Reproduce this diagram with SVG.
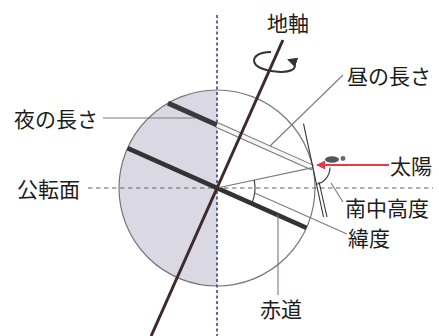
<svg xmlns="http://www.w3.org/2000/svg" width="439" height="336" viewBox="0 0 439 336">
  <style>
    .label { font-family: "Noto Sans CJK JP", "Noto Sans", sans-serif; font-size: 21px; fill: #1c1c1c; }
    .leader { stroke: #7a7a7a; stroke-width: 1.1; fill: none; }
    .thin { stroke: #333; stroke-width: 1.1; fill: none; }
  </style>
  <defs>
    <marker id="tip-dark" viewBox="0 0 10 10" refX="8" refY="5" markerWidth="5" markerHeight="5" orient="auto" markerUnits="strokeWidth">
      <path d="M0,0 L10,5 L0,10 z" fill="#333"/>
    </marker>
    <marker id="tip-red" viewBox="0 0 10 10" refX="9" refY="5" markerWidth="5.5" markerHeight="4.5" orient="auto" markerUnits="strokeWidth">
      <path d="M0,0 L10,5 L0,10 z" fill="#e8394a"/>
    </marker>
    <clipPath id="night">
      <rect x="100" y="80" width="117" height="220"/>
    </clipPath>
  </defs>

  <rect width="439" height="336" fill="#ffffff"/>

  <!-- Earth: night half shaded, outline -->
  <g id="earth">
    <circle cx="217" cy="188" r="98" fill="#d9d8e3" clip-path="url(#night)"/>
    <circle cx="217" cy="188" r="98" fill="none" stroke="#777" stroke-width="1.2"/>
  </g>

  <!-- reference lines -->
  <g id="planes">
    <line x1="217" y1="15" x2="217" y2="336" stroke="#2a3f78" stroke-width="1.5" stroke-dasharray="3,2.5"/>
    <line x1="88" y1="188" x2="433" y2="188" stroke="#666" stroke-width="1.2" stroke-dasharray="4.5,3.5"/>
  </g>

  <!-- parallels of latitude -->
  <g id="latitude">
    <line x1="168" y1="103.1" x2="217" y2="125" stroke="#3a3a3a" stroke-width="5"/>
    <line x1="217" y1="125" x2="312.8" y2="167.7" stroke="#777" stroke-width="6"/>
    <line x1="217" y1="125" x2="312.8" y2="167.7" stroke="#f6f5f8" stroke-width="4"/>
    <line x1="127.5" y1="148.1" x2="306.5" y2="227.9" stroke="#333" stroke-width="4.5"/>
  </g>

  <!-- connectors: radius, horizon, angle arcs, sun ray, leaders -->
  <g id="connectors">
    <line class="leader" x1="217" y1="188" x2="312.8" y2="167.6"/>
    <line class="thin" x1="303.5" y1="123.6" x2="323.5" y2="217"/>
    <line class="thin" x1="319" y1="182" x2="327" y2="217"/>
    <path class="thin" d="M254.2,180.1 A38,38 0 0 1 251.7,203.5"/>
    <path class="thin" d="M330,167.6 A17,17 0 0 1 316.4,184.2"/>
    <line x1="389" y1="165" x2="317" y2="165" stroke="#e8394a" stroke-width="2" marker-end="url(#tip-red)"/>
    <line class="leader" x1="103" y1="118" x2="195" y2="118"/>
    <line class="leader" x1="343" y1="75" x2="270" y2="146"/>
    <line class="leader" x1="254.7" y1="193" x2="347" y2="234"/>
    <line class="leader" x1="331" y1="183" x2="343" y2="202"/>
    <line x1="278" y1="215" x2="278" y2="295" stroke="#8a7466" stroke-width="1.1"/>
  </g>

  <!-- observer figure on the surface -->
  <g id="observer">
    <ellipse cx="332" cy="159.5" rx="7" ry="3.2" fill="#555"/>
    <circle cx="343" cy="158.5" r="2.4" fill="#666"/>
  </g>

  <!-- rotation around the axis -->
  <g id="rotation">
    <path d="M271,52 C258,52 250,58 256,65 C262,71 284,74 292,70 C297,67 295,62 289,60" fill="none" stroke="#333" stroke-width="2" marker-end="url(#tip-dark)"/>
  </g>

  <!-- Earth's axis -->
  <g id="axis">
    <line x1="282.9" y1="40" x2="151.1" y2="336" stroke="#3d2a2a" stroke-width="3"/>
  </g>

  <!-- labels -->
  <g id="labels">
    <text class="label" x="267" y="31">地軸</text>
    <text class="label" x="347" y="84">昼の長さ</text>
    <text class="label" x="14" y="127">夜の長さ</text>
    <text class="label" x="17" y="197">公転面</text>
    <text class="label" x="390" y="174">太陽</text>
    <text class="label" x="345" y="216">南中高度</text>
    <text class="label" x="348" y="246">緯度</text>
    <text class="label" x="260" y="317">赤道</text>
  </g>
</svg>
